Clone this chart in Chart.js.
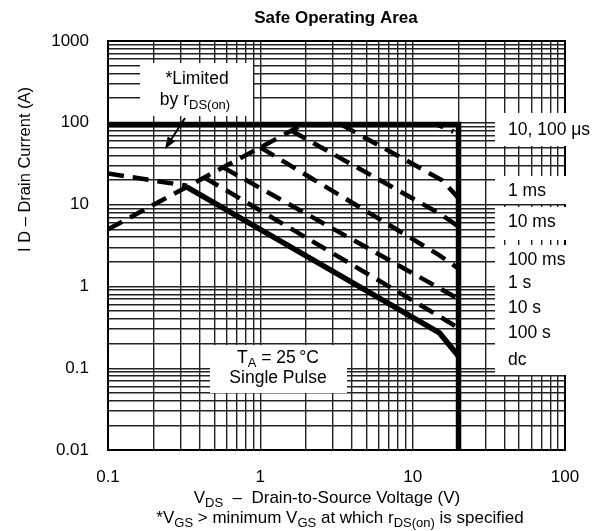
<!DOCTYPE html>
<html>
<head>
<meta charset="utf-8">
<script src="https://cdn.jsdelivr.net/npm/chart.js@4.4.1/dist/chart.umd.min.js"></script>
<style>
  html, body { margin: 0; padding: 0; background: #fff; }
  #wrap { width: 605px; height: 531px; }
</style>
</head>
<body>
<div id="wrap"><canvas id="soa" width="605" height="531"></canvas></div>
<script>
const FONT = "'Liberation Sans', Arial, Helvetica, sans-serif";

// Labelled decades on each axis and the sub-decade multipliers used for grid lines
const xDecades = [0.1, 1, 10, 100];
const yDecades = [0.01, 0.1, 1, 10, 100, 1000];
const subSteps = [1, 2, 3, 4, 5, 6, 7, 8, 9];

// Boundaries: drain-to-source voltage (V) against drain current (A)
const rdsLimitV = [0.1, 1.9];
const rdsLimitI = [5, 95];
const leftExtV = [0.1, 0.33];
const leftExtI = [24, 17];
const pulseLimitV = [0.1, 20, 20];
const pulseLimitI = [95, 95, 0.01];
const us100V = [1.9, 14.5, 18.5];
const us100I = [95, 95, 78];
const ms1V = [3.4, 15.5, 20];
const ms1I = [95, 20, 12];
const ms10V = [1.6, 15, 20];
const ms10I = [80, 7.8, 5.4];
const ms100V = [1.0, 15, 20];
const ms100I = [50, 2.4, 1.65];
const s1V = [0.57, 15, 20];
const s1I = [28.5, 0.95, 0.70];
const s10V = [0.43, 15, 20];
const s10I = [21.4, 0.43, 0.31];
const dcV = [0.33, 15, 20];
const dcI = [16.4, 0.27, 0.14];

// Pulse-width names printed beside the curves
const curveLabels = ['10, 100 \u03bcs', '1 ms', '10 ms', '100 ms', '1 s', '10 s', '100 s', 'dc'];

function pts(vs, is) { return vs.map((v, k) => ({ x: v, y: is[k] })); }
function gridValues(decades) {
  const out = [];
  decades.forEach((d, k) => {
    if (k === decades.length - 1) { out.push(d); return; }
    subSteps.forEach(s => out.push(+(d * s).toPrecision(6)));
  });
  return out;
}

const DASH = [16, 9];
function dashed(label, vs, is) {
  return { label, data: pts(vs, is), borderColor: '#000', borderWidth: 4.5, borderDash: DASH,
           borderCapStyle: 'butt', pointRadius: 0, showLine: true, fill: false, tension: 0 };
}
function solid(label, vs, is, w) {
  return { label, data: pts(vs, is), borderColor: '#000', borderWidth: w, pointRadius: 0,
           showLine: true, fill: false, tension: 0, borderJoinStyle: 'miter' };
}

// Draws a line of text made of normal and subscript runs, centred or left aligned
function drawRuns(ctx, runs, x, y, size, align) {
  const subSize = Math.round(size * 0.76);
  const widths = runs.map(r => {
    ctx.font = (r.sub ? subSize : size) + 'px ' + FONT;
    return ctx.measureText(r.t).width;
  });
  const total = widths.reduce((a, b) => a + b, 0);
  let cx = align === 'left' ? x : x - total / 2;
  ctx.textAlign = 'left';
  ctx.textBaseline = 'middle';
  runs.forEach((r, k) => {
    ctx.font = (r.sub ? subSize : size) + 'px ' + FONT;
    ctx.fillText(r.t, cx, r.sub ? y + size * 0.3 : y);
    cx += widths[k];
  });
}

const annotations = {
  id: 'soaAnnotations',
  beforeDatasetsDraw(chart) {
    const { ctx, chartArea: a } = chart;
    ctx.save();
    // plot frame
    ctx.strokeStyle = '#000';
    ctx.lineWidth = 2;
    ctx.strokeRect(a.left, a.top, a.right - a.left, a.bottom - a.top);
    // white panels behind the notes
    ctx.fillStyle = '#fff';
    [[140, 63, 113, 53], [210, 345, 137, 48],
     [495, 113, 110, 33], [495, 176, 110, 28], [495, 207, 110, 33], [495, 245, 110, 130]]
      .forEach(b => ctx.fillRect(b[0], b[1], b[2], b[3]));
    ctx.restore();
  },
  afterDatasetsDraw(chart) {
    const { ctx } = chart;
    ctx.save();
    ctx.fillStyle = '#000';
    ctx.strokeStyle = '#000';

    // rDS(on) note and arrow
    drawRuns(ctx, [{ t: '*Limited' }], 197, 79, 17.5, 'center');
    drawRuns(ctx, [{ t: 'by r' }, { t: 'DS(on)', sub: true }], 195, 100, 17.5, 'center');
    const ax0 = 185, ay0 = 118, ax1 = 165, ay1 = 149;
    const ang = Math.atan2(ay1 - ay0, ax1 - ax0);
    ctx.lineWidth = 2;
    ctx.beginPath(); ctx.moveTo(ax0, ay0);
    ctx.lineTo(ax1 - 8 * Math.cos(ang), ay1 - 8 * Math.sin(ang)); ctx.stroke();
    ctx.beginPath();
    ctx.moveTo(ax1, ay1);
    ctx.lineTo(ax1 - 12 * Math.cos(ang) + 4.5 * Math.sin(ang), ay1 - 12 * Math.sin(ang) - 4.5 * Math.cos(ang));
    ctx.lineTo(ax1 - 12 * Math.cos(ang) - 4.5 * Math.sin(ang), ay1 - 12 * Math.sin(ang) + 4.5 * Math.cos(ang));
    ctx.closePath(); ctx.fill();

    // test conditions
    drawRuns(ctx, [{ t: 'T' }, { t: 'A', sub: true }, { t: ' = 25\u2009\u00b0C' }], 278, 358, 17.5, 'center');
    drawRuns(ctx, [{ t: 'Single Pulse' }], 278, 378, 17.5, 'center');

    // pulse-width labels
    const labelY = [130, 191, 222, 260, 283, 308, 333, 360];
    curveLabels.forEach((t, k) => drawRuns(ctx, [{ t }], 508, labelY[k], 17.5, 'left'));
    ctx.restore();
  },
  afterDraw(chart) {
    const { ctx } = chart;
    ctx.save();
    ctx.fillStyle = '#000';
    ctx.font = 'bold 17px ' + FONT;
    ctx.textAlign = 'center';
    ctx.textBaseline = 'middle';
    ctx.fillText('Safe Operating Area', 336, 18);

    drawRuns(ctx, [{ t: 'V' }, { t: 'DS', sub: true }, { t: '  \u2013  Drain-to-Source Voltage (V)' }], 327, 498, 17, 'center');
    drawRuns(ctx, [{ t: '*V' }, { t: 'GS', sub: true }, { t: ' > minimum V' }, { t: 'GS', sub: true },
                   { t: ' at which r' }, { t: 'DS(on)', sub: true }, { t: ' is specified' }], 340, 518, 17, 'center');

    ctx.translate(25, 252);
    ctx.rotate(-Math.PI / 2);
    ctx.font = '16.5px ' + FONT;
    ctx.fillText('I D \u2013 Drain Current (A)', 0, 0);
    ctx.restore();
  }
};

const decadeLabel = decades => v => decades.some(d => Math.abs(d - v) < d * 1e-9) ? String(v) : '';

new Chart(document.getElementById('soa'), {
  type: 'scatter',
  data: {
    datasets: [
      dashed('rDS(on) limit', rdsLimitV, rdsLimitI),
      dashed('low-voltage extension', leftExtV, leftExtI),
      dashed('100 \u03bcs', us100V, us100I),
      dashed('1 ms', ms1V, ms1I),
      dashed('10 ms', ms10V, ms10I),
      dashed('100 ms', ms100V, ms100I),
      dashed('1 s', s1V, s1I),
      dashed('10 s', s10V, s10I),
      solid('dc', dcV, dcI, 5.5),
      solid('10 \u03bcs', pulseLimitV, pulseLimitI, 5.5)
    ]
  },
  options: {
    responsive: false,
    animation: false,
    events: [],
    layout: { padding: { left: 0, top: 41, right: 40, bottom: 0 } },
    plugins: { legend: { display: false }, tooltip: { enabled: false }, title: { display: false } },
    scales: {
      x: {
        type: 'logarithmic', min: 0.1, max: 100,
        afterBuildTicks: s => { s.ticks = gridValues(xDecades).map(v => ({ value: v })); },
        afterFit: s => { s.height = 81; },
        ticks: { autoSkip: false, maxRotation: 0, minRotation: 0, padding: 17, color: '#000',
                 font: { family: FONT, size: 17 }, callback: decadeLabel(xDecades) },
        grid: { color: '#222', lineWidth: 1.4, drawTicks: false },
        border: { display: false }
      },
      y: {
        type: 'logarithmic', min: 0.01, max: 1000,
        afterBuildTicks: s => { s.ticks = gridValues(yDecades).map(v => ({ value: v })); },
        afterFit: s => { s.width = 108; },
        ticks: { autoSkip: false, padding: 19, color: '#000',
                 font: { family: FONT, size: 17 }, callback: decadeLabel(yDecades) },
        grid: { color: '#222', lineWidth: 1.4, drawTicks: false },
        border: { display: false }
      }
    }
  },
  plugins: [annotations]
});
</script>
</body>
</html>
